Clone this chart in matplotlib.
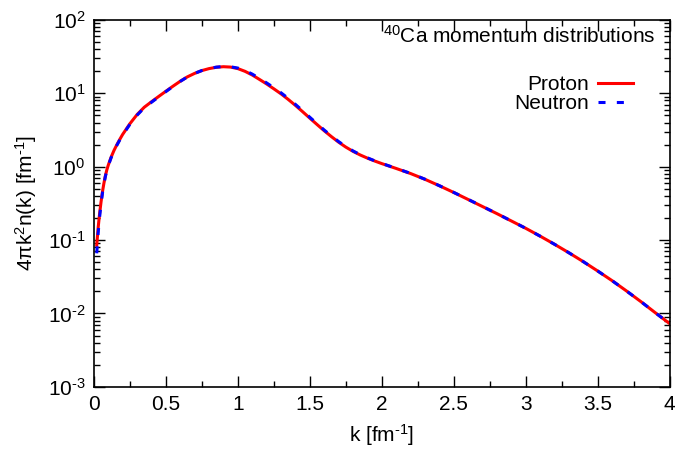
import numpy as np
import matplotlib
matplotlib.use('Agg')
import matplotlib.pyplot as plt
from matplotlib.ticker import LogLocator, MultipleLocator

plt.rcParams['font.family'] = ['Liberation Sans', 'DejaVu Sans']
plt.rcParams['mathtext.fontset'] = 'custom'
plt.rcParams['mathtext.rm'] = 'Liberation Sans'
plt.rcParams['mathtext.default'] = 'regular'
plt.rcParams['axes.unicode_minus'] = False

# momentum k [fm^-1] and 4 pi k^2 n(k) [fm^-1]
k_grid = [0.02, 0.03, 0.04, 0.05, 0.06, 0.07, 0.08, 0.09, 0.1, 0.12,
          0.14, 0.16, 0.18, 0.2, 0.25, 0.3, 0.35, 0.4, 0.45, 0.5,
          0.55, 0.6, 0.65, 0.7, 0.75, 0.8, 0.85, 0.9, 0.95, 1.0,
          1.05, 1.1, 1.15, 1.2, 1.25, 1.3, 1.35, 1.4, 1.45, 1.5,
          1.55, 1.6, 1.65, 1.7, 1.75, 1.8, 1.85, 1.9, 1.95, 2.0,
          2.1, 2.2, 2.3, 2.4, 2.5, 2.6, 2.7, 2.8, 2.9, 3.0,
          3.1, 3.2, 3.3, 3.4, 3.5, 3.6, 3.7, 3.8, 3.9, 4.0]

n_proton = [0.085, 0.148, 0.229, 0.331, 0.457, 0.596, 0.75, 0.902, 1.047, 1.349,
            1.667, 1.995, 2.355, 2.754, 3.846, 5.13, 6.46, 7.67, 9.06, 10.67,
            12.53, 14.62, 16.79, 18.71, 20.42, 21.73, 22.65, 23.07, 22.80, 21.73,
            19.95, 17.78, 15.49, 13.43, 11.53, 9.84, 8.26, 6.85, 5.62, 4.59,
            3.76, 3.09, 2.57, 2.16, 1.85, 1.62, 1.445, 1.309, 1.197, 1.102,
            0.946, 0.807, 0.673, 0.550, 0.445, 0.357, 0.286, 0.229, 0.182, 0.1445,
            0.113, 0.0875, 0.067, 0.0507, 0.0378, 0.0279, 0.0202, 0.01445, 0.0102, 0.00724]

n_neutron = [0.066, 0.125, 0.205, 0.31, 0.44, 0.58, 0.735, 0.885, 1.03, 1.325,
             1.635, 1.96, 2.31, 2.70, 3.77, 5.03, 6.35, 7.55, 8.93, 10.55,
             12.42, 14.55, 16.75, 18.71, 20.45, 21.8, 22.75, 23.2, 23.0, 22.1,
             20.45, 18.3, 15.98, 13.87, 11.92, 10.17, 8.54, 7.07, 5.79, 4.72,
             3.86, 3.16, 2.62, 2.20, 1.88, 1.64, 1.46, 1.32, 1.205, 1.108,
             0.95, 0.81, 0.675, 0.551, 0.446, 0.358, 0.287, 0.229, 0.182, 0.1445,
             0.113, 0.0875, 0.067, 0.0507, 0.0378, 0.0279, 0.0202, 0.01445, 0.0102, 0.00724]

fig = plt.figure(figsize=(6.8, 4.54), dpi=100)
ax = fig.add_axes([0.138, 0.148, 0.847, 0.808])

ax.plot(k_grid, n_proton, color='red', lw=2.2, label='Proton')
ax.plot(k_grid, n_neutron, color='blue', lw=2.2, dashes=(2.3, 3.7), label='Neutron')

ax.set_yscale('log')
ax.set_xlim(0, 4)
ax.set_ylim(1e-3, 1e2)

ax.xaxis.set_major_locator(MultipleLocator(0.5))
ax.xaxis.set_minor_locator(MultipleLocator(0.25))
ax.xaxis.set_major_formatter(plt.FuncFormatter(lambda v, p: f'{v:g}'))
ax.yaxis.set_major_locator(LogLocator(base=10, numticks=10))
ax.yaxis.set_minor_locator(LogLocator(base=10, subs=np.arange(2, 10), numticks=10))
ax.yaxis.set_major_formatter(plt.FuncFormatter(
    lambda v, p: '10$^{\\text{%d}}$' % round(np.log10(v))))

ax.tick_params(which='both', direction='in', top=True, right=True, labelsize=15, width=1)
ax.tick_params(which='major', length=8, pad=6)
ax.tick_params(which='minor', length=4)
for s in ax.spines.values():
    s.set_linewidth(1.2)

ax.set_xlabel('k [fm$^{\\text{-1}}$]', fontsize=15, labelpad=6)
ax.set_ylabel('4πk$^{2}$n(k) [fm$^{\\text{-1}}$]', fontsize=15, labelpad=6)

ax.text(0.974, 0.937, '$^{40}$Ca momentum distributions', transform=ax.transAxes,
        ha='right', va='baseline', fontsize=15)

ax.legend(loc='upper right', bbox_to_anchor=(0.936, 0.85), frameon=False,
          markerfirst=False, fontsize=15, handlelength=1.68, handletextpad=0.43,
          labelspacing=0.0, borderaxespad=0, borderpad=0)

fig.savefig('out.png', dpi=100)
